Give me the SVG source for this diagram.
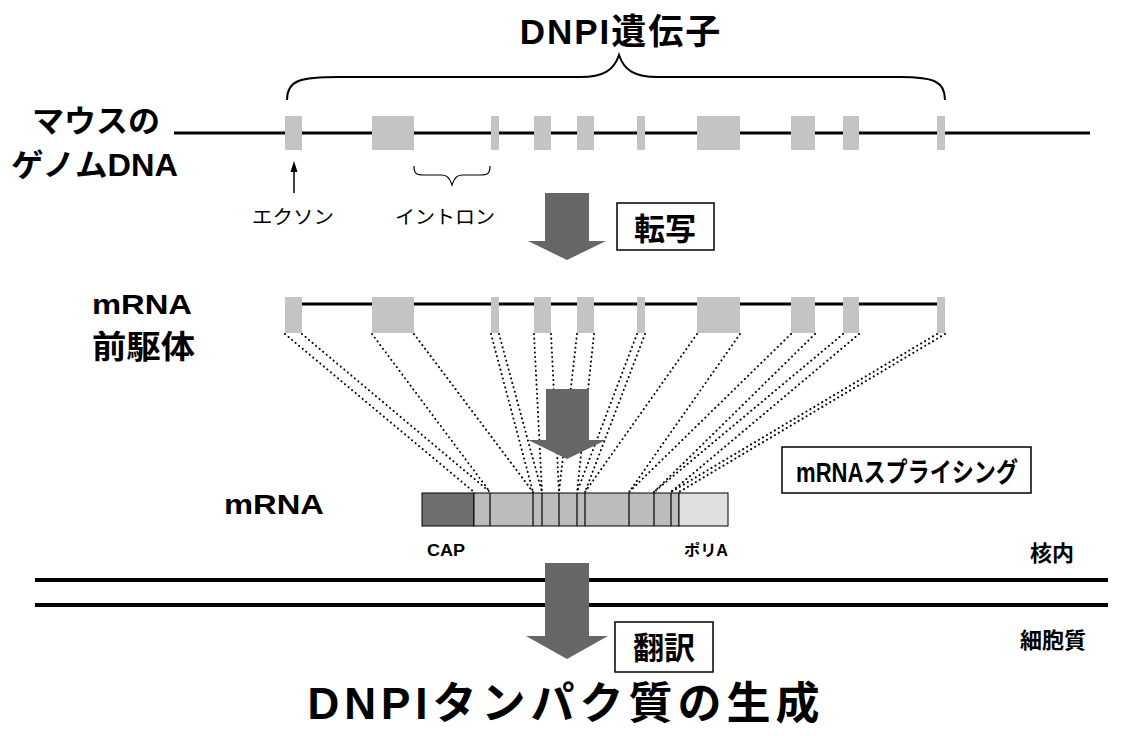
<svg xmlns="http://www.w3.org/2000/svg" width="1133" height="736" viewBox="0 0 1133 736">
<style>
.t{font-family:"Liberation Sans","Noto Sans CJK JP",sans-serif;font-weight:bold;fill:#000}
.j{font-family:"Noto Sans CJK JP","Liberation Sans",sans-serif;fill:#000}
.exon{fill:#c4c4c4}
.arr{fill:#666}
.dot{stroke:#000;stroke-width:2;stroke-dasharray:0.1 4.5;stroke-linecap:round;fill:none}
.box{fill:#fff;stroke:#000;stroke-width:1.5}
</style>
<rect width="1133" height="736" fill="#fff"/>

<g id="title"><text class="t" x="621" y="44" font-size="35" text-anchor="middle" letter-spacing="2">DNPI遺伝子</text></g>

<g id="genomic">
<text class="t" x="32" y="132" font-size="31" textLength="128" lengthAdjust="spacingAndGlyphs">マウスの</text>
<text class="t" x="11" y="176" font-size="31" textLength="167" lengthAdjust="spacingAndGlyphs">ゲノムDNA</text>
<line x1="174" y1="133" x2="1090" y2="133" stroke="#000" stroke-width="3"/>
<rect class="exon" x="285" y="116" width="17" height="34"/>
<rect class="exon" x="372" y="116" width="42" height="34"/>
<rect class="exon" x="491" y="116" width="8" height="34"/>
<rect class="exon" x="534" y="116" width="17" height="34"/>
<rect class="exon" x="577" y="116" width="17" height="34"/>
<rect class="exon" x="637" y="116" width="8" height="34"/>
<rect class="exon" x="697" y="116" width="43" height="34"/>
<rect class="exon" x="791" y="116" width="24" height="34"/>
<rect class="exon" x="843" y="116" width="16" height="34"/>
<rect class="exon" x="937" y="116" width="8" height="34"/>
</g>

<g id="exon-label"><text class="j" x="252" y="224" font-size="19" textLength="82" lengthAdjust="spacingAndGlyphs">エクソン</text></g>
<g id="intron-label"><text class="j" x="395" y="224" font-size="19" textLength="100" lengthAdjust="spacingAndGlyphs">イントロン</text></g>

<g id="precursor">
<text class="t" x="92" y="314" font-size="28" textLength="100" lengthAdjust="spacingAndGlyphs">mRNA</text>
<text class="t" x="92" y="358" font-size="32" textLength="103" lengthAdjust="spacingAndGlyphs">前駆体</text>
<line x1="294" y1="304" x2="940" y2="304" stroke="#000" stroke-width="3"/>
<rect class="exon" x="285" y="297" width="17" height="36"/>
<rect class="exon" x="372" y="297" width="42" height="36"/>
<rect class="exon" x="491" y="297" width="8" height="36"/>
<rect class="exon" x="534" y="297" width="17" height="36"/>
<rect class="exon" x="577" y="297" width="17" height="36"/>
<rect class="exon" x="637" y="297" width="8" height="36"/>
<rect class="exon" x="697" y="297" width="43" height="36"/>
<rect class="exon" x="791" y="297" width="24" height="36"/>
<rect class="exon" x="843" y="297" width="16" height="36"/>
<rect class="exon" x="937" y="297" width="8" height="36"/>
</g>

<g id="mrna">
<text class="t" x="224" y="514" font-size="28" textLength="100" lengthAdjust="spacingAndGlyphs">mRNA</text>
<rect x="422" y="493" width="52" height="33" fill="#6e6e6e" stroke="#000" stroke-width="1"/>
<rect x="474" y="493" width="205" height="33" fill="#bcbcbc" stroke="#000" stroke-width="1"/>
<rect x="679" y="493" width="49" height="33" fill="#e0e0e0" stroke="#000" stroke-width="1"/>
<g stroke="#000" stroke-width="1.2">
<line x1="490" y1="493" x2="490" y2="526"/>
<line x1="533" y1="493" x2="533" y2="526"/>
<line x1="542" y1="493" x2="542" y2="526"/>
<line x1="559" y1="493" x2="559" y2="526"/>
<line x1="577" y1="493" x2="577" y2="526"/>
<line x1="585" y1="493" x2="585" y2="526"/>
<line x1="629" y1="493" x2="629" y2="526"/>
<line x1="654" y1="493" x2="654" y2="526"/>
<line x1="671" y1="493" x2="671" y2="526"/>
</g>
<text class="t" x="427" y="556" font-size="16" textLength="38" lengthAdjust="spacingAndGlyphs">CAP</text>
<text class="t" x="684" y="556" font-size="16" textLength="44" lengthAdjust="spacingAndGlyphs">ポリA</text>
</g>

<g id="splicing-label">
<rect class="box" x="782" y="447" width="249" height="46"/>
<text class="t" x="796" y="482" font-size="27" textLength="222" lengthAdjust="spacingAndGlyphs">mRNAスプライシング</text>
</g>

<g id="transcription-label">
<rect class="box" x="617" y="203" width="97" height="47"/>
<text class="t" x="665" y="240" font-size="31" text-anchor="middle">転写</text>
</g>

<g id="membrane">
<line x1="35" y1="580" x2="1108" y2="580" stroke="#000" stroke-width="4"/>
<line x1="35" y1="605" x2="1108" y2="605" stroke="#000" stroke-width="4"/>
<text class="t" x="1052" y="561" font-size="22" text-anchor="middle">核内</text>
<text class="t" x="1053" y="648" font-size="22" text-anchor="middle">細胞質</text>
</g>

<g id="translation-label">
<rect class="box" x="615" y="622" width="98" height="50"/>
<text class="t" x="664" y="659" font-size="31" text-anchor="middle">翻訳</text>
</g>

<g id="product"><text class="t" x="566" y="719" font-size="44" text-anchor="middle" letter-spacing="5">DNPIタンパク質の生成</text></g>

<g id="connectors">
<path d="M287,100 C287,80 300,77 340,77 L580,77 C604,77 614,70 619,55 C624,70 634,77 658,77 L900,77 C935,77 945,82 945,100" fill="none" stroke="#000" stroke-width="2"/>
<line x1="294" y1="193" x2="294" y2="170" stroke="#000" stroke-width="1.5"/>
<polygon points="294,161 290.5,172 297.5,172" fill="#000"/>
<path d="M414,166 C414,173 416,175 423,175 L442,175 C447,175 450,178 452,185 C454,178 457,175 462,175 L481,175 C488,175 490,173 490,166" fill="none" stroke="#000" stroke-width="1.2"/>
<polygon class="arr" points="545,193 589,193 589,241 606,241 567,260 528,241 545,241"/>
<g class="dot">
<line x1="285" y1="334" x2="474" y2="492"/>
<line x1="302" y1="334" x2="490" y2="492"/>
<line x1="372" y1="334" x2="490" y2="492"/>
<line x1="414" y1="334" x2="533" y2="492"/>
<line x1="491" y1="334" x2="533" y2="492"/>
<line x1="499" y1="334" x2="542" y2="492"/>
<line x1="534" y1="334" x2="542" y2="492"/>
<line x1="551" y1="334" x2="559" y2="492"/>
<line x1="577" y1="334" x2="559" y2="492"/>
<line x1="594" y1="334" x2="577" y2="492"/>
<line x1="637" y1="334" x2="577" y2="492"/>
<line x1="645" y1="334" x2="585" y2="492"/>
<line x1="697" y1="334" x2="585" y2="492"/>
<line x1="740" y1="334" x2="629" y2="492"/>
<line x1="791" y1="334" x2="629" y2="492"/>
<line x1="815" y1="334" x2="654" y2="492"/>
<line x1="843" y1="334" x2="654" y2="492"/>
<line x1="859" y1="334" x2="671" y2="492"/>
<line x1="937" y1="334" x2="671" y2="492"/>
<line x1="945" y1="334" x2="679" y2="492"/>
</g>
<polygon class="arr" points="546,389 589,389 589,440 606,440 567,459 528,440 546,440"/>
<polygon class="arr" points="545,563 589,563 589,636 608,636 567,659 526,636 545,636"/>
</g>
</svg>
